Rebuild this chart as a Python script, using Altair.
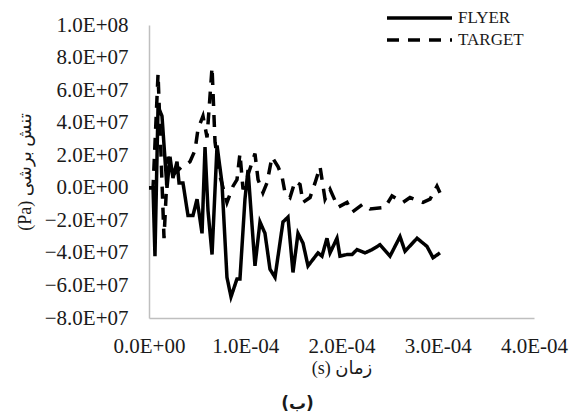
import altair as alt
import pandas as pd

# time in microseconds, stress in units of 1e7 Pa
flyer_t = [0, 4.2, 6.2, 9.4, 13.5, 18.7, 21.8, 24.9, 29.1, 31.2, 35.3, 40.5, 45.7, 49.9,
           55.1, 58.2, 61.3, 65.5, 70.7, 75.8, 81.0, 85.2, 91.4, 94.5, 99.7, 102.9,
           110.1, 115.3, 120.5, 125.7, 130.9, 139.2, 144.4, 149.6, 154.8, 160.0, 165.2,
           170.4, 175.6, 179.7, 184.9, 188.1, 195.3, 198.4, 205.7, 210.9, 216.1, 224.4,
           231.7, 240.0, 250.4, 260.8, 266.0, 278.5, 288.8, 295.1, 302.3]
flyer_s = [0, 0, -4.2, 5.0, 4.4, 0.0, 1.9, 0.6, 1.6, 0.3, 0.3, -1.7, -1.7, -0.7,
           -2.8, 2.5, -1.4, -4.1, 2.6, 0.3, -5.5, -6.7, -5.6, -5.6, -0.7, 1.1,
           -4.8, -2.1, -2.8, -5.0, -5.5, -2.1, -1.8, -5.2, -2.8, -3.4, -4.8,
           -4.4, -4.0, -4.2, -3.1, -4.0, -3.1, -4.2, -4.1, -4.1, -3.8, -4.0,
           -3.8, -3.5, -4.2, -3.0, -3.9, -3.1, -3.6, -4.3, -4.0]

target_t = [0, 4.2, 9.4, 15.6, 19.7, 27.0, 34.3, 40.5, 42.6, 47.8, 50.9, 56.1, 60.3,
            65.5, 68.6, 73.8, 81.0, 87.3, 91.4, 94.5, 97.7, 102.9, 110.1, 113.3, 118.4,
            122.6, 127.8, 134.0, 138.2, 141.3, 146.5, 151.7, 156.9, 160.0, 167.3, 172.5,
            177.7, 182.9, 188.1, 196.4, 205.7, 210.9, 222.3, 229.6, 245.2, 252.5, 263.9,
            271.2, 284.7, 292.0, 299.2, 302.3]
target_s = [0, 0, 7.0, -3.1, 1.9, 0.9, 1.3, 1.5, 1.6, 2.3, 3.6, 4.4, 3.1,
            7.4, 2.8, 0.7, -0.9, 0.1, 0.5, 2.1, -0.1, 0.8, 2.1, 0.5, -0.3,
            0.3, 1.9, 1.3, 0.7, -0.3, -0.6, 0.4, 0.2, -0.9, -0.6, 0.3,
            1.3, -0.7, -0.1, -1.2, -0.9, -1.5, -1.0, -1.3, -1.2, -0.5, -0.9,
            -0.6, -0.9, -0.7, 0.1, -0.3]

series_names = ["FLYER", "TARGET"]
x_ticks = [0, 1e-4, 2e-4, 3e-4, 4e-4]
y_ticks = [-8e7, -6e7, -4e7, -2e7, 0, 2e7, 4e7, 6e7, 8e7, 1e8]

rows = []
for t, s in zip(flyer_t, flyer_s):
    rows.append({"t": t * 1e-6, "s": s * 1e7, "series": series_names[0]})
for t, s in zip(target_t, target_s):
    rows.append({"t": t * 1e-6, "s": s * 1e7, "series": series_names[1]})
df = pd.DataFrame(rows)

E = "floor(log(abs(datum.value))/LN10 + 1e-9)"
sci = ("datum.value == 0 ? '0.0E+00' : format(datum.value / pow(10, " + E + "), '.1f') + 'E' + "
       "(" + E + " < 0 ? '-' : '+') + (abs(" + E + ") < 10 ? '0' : '') + abs(" + E + ")")

serif = "Liberation Serif, DejaVu Sans"

chart = alt.Chart(df).mark_line(strokeWidth=3.5, color="black", strokeCap="butt").encode(
    x=alt.X("t:Q", scale=alt.Scale(domain=[0, 4e-4], nice=False),
            axis=alt.Axis(values=x_ticks, labelExpr=sci, title="(s)  زمان",
                          grid=False, ticks=False, tickSize=0, domainColor="#bfbfbf",
                          domainWidth=1.5, labelFont=serif, labelFontSize=21,
                          labelColor="#1a1a1a", labelPadding=17, labelFlush=False,
                          titleFont=serif, titleFontSize=18, titleFontWeight="normal",
                          titleColor="#1a1a1a", titleY=55, titleBaseline="alphabetic")),
    y=alt.Y("s:Q", scale=alt.Scale(domain=[-8e7, 1e8], nice=False),
            axis=alt.Axis(values=y_ticks, labelExpr=sci, title="(Pa) تنش برشی",
                          grid=False, ticks=False, tickSize=0, domainColor="#bfbfbf",
                          domainWidth=1.5, labelFont=serif, labelFontSize=21,
                          labelColor="#1a1a1a", labelPadding=21,
                          titleFont=serif, titleFontSize=18, titleFontWeight="normal",
                          titleColor="#1a1a1a", titleX=-119, titleBaseline="alphabetic")),
    strokeDash=alt.StrokeDash("series:N",
                              scale=alt.Scale(domain=series_names, range=[[1, 0], [12, 9]]),
                              legend=alt.Legend(title=None, orient="none", legendX=236, legendY=-18,
                                                symbolType="stroke", symbolSize=4225,
                                                symbolStrokeWidth=3.5, symbolStrokeColor="black",
                                                clipHeight=22,
                                                labelFont=serif, labelFontSize=17, labelColor="#1a1a1a",
                                                padding=0, rowPadding=0)),
).properties(
    width=385, height=293,
    title=alt.TitleParams("(ب)", orient="bottom", font="DejaVu Sans", fontSize=17,
                          fontWeight="bold", color="#1a1a1a", anchor="middle", dx=-44, offset=19),
    padding={"left": 149, "top": 25, "right": 44, "bottom": 98},
    autosize=alt.AutoSizeParams(type="none"),
).configure_view(stroke=None)

chart.save("out.html", embed_options={"renderer": "svg", "actions": False})
